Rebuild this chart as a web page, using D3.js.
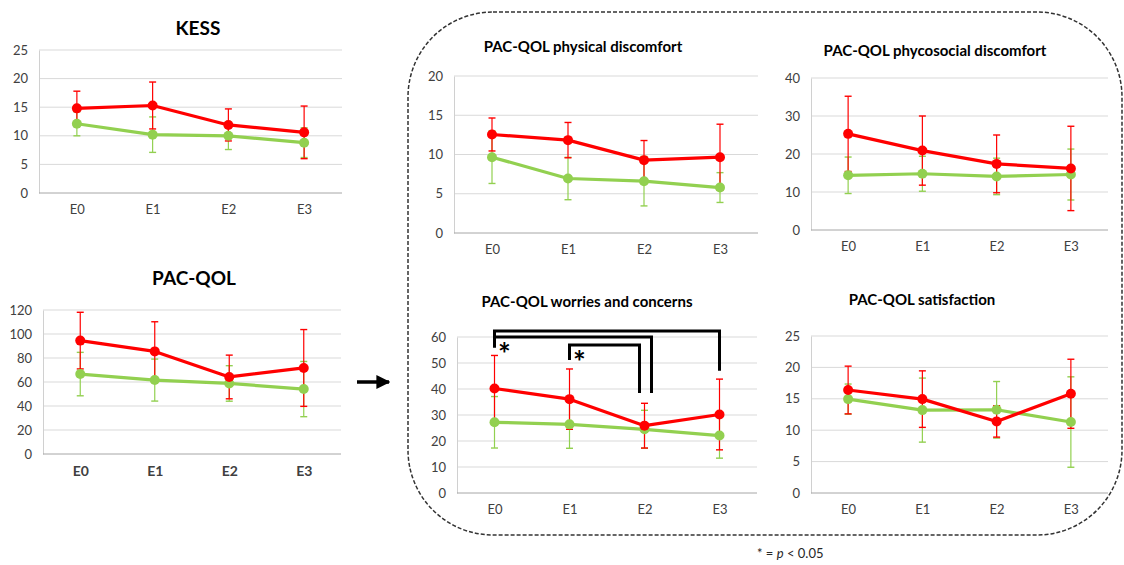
<!DOCTYPE html>
<html>
<head>
<meta charset="utf-8">
<script src="https://cdn.jsdelivr.net/npm/d3@7"></script>
<style>
  body { margin: 0; background: #fff; }
  svg { font-family: Lato, "Open Sans", sans-serif; }
</style>
</head>
<body>
<div id="chart"></div>
<script>
// time points
var categories = ["E0", "E1", "E2", "E3"];

// means and SD (red / green groups)
var kessRed = [14.8, 15.3, 11.9, 10.6];
var kessRedSd = [3.0, 4.1, 2.8, 4.6];
var kessGreen = [12.1, 10.2, 10.0, 8.8];
var kessGreenSd = [2.1, 3.1, 2.4, 2.6];

var pacRed = [94.5, 85.5, 64.2, 71.7];
var pacRedSd = [23.6, 24.7, 18.2, 32.0];
var pacGreen = [66.6, 61.6, 58.8, 54.1];
var pacGreenSd = [18.1, 17.5, 14.8, 23.0];

var physRed = [12.55, 11.83, 9.28, 9.66];
var physRedSd = [2.1, 2.25, 2.5, 4.2];
var physGreen = [9.66, 6.94, 6.6, 5.79];
var physGreenSd = [3.35, 2.7, 3.15, 1.9];

var psyRed = [25.3, 20.9, 17.4, 16.2];
var psyRedSd = [9.9, 9.1, 7.6, 11.1];
var psyGreen = [14.4, 14.8, 14.1, 14.6];
var psyGreenSd = [4.8, 4.6, 4.8, 6.7];

var worRed = [40.2, 36.1, 25.9, 30.2];
var worRedSd = [12.7, 11.6, 8.6, 13.6];
var worGreen = [27.2, 26.4, 24.5, 22.1];
var worGreenSd = [9.9, 9.2, 7.3, 8.7];

var satRed = [16.4, 14.95, 11.4, 15.8];
var satRedSd = [3.8, 4.5, 2.5, 5.5];
var satGreen = [14.95, 13.2, 13.25, 11.3];
var satGreenSd = [2.4, 5.1, 4.5, 7.2];

// significance brackets in worries panel: [from, to, top value, left leg end, right leg end]
var worBrackets = [
  ["E0", "E3", 62.3, 56.0, 47.0],
  ["E0", "E2", 60.0, 56.0, 38.5],
  ["E1", "E2", 56.9, 51.2, 38.5]
];
var worStars = [["E0", 55.5], ["E1", 52.5]];

var RED = "#ff0000", GREEN = "#92d050";

var svg = d3.select("#chart").append("svg")
  .attr("width", 1124).attr("height", 565);

// layout of every panel
var panels = [
  { title: "KESS", red: kessRed, redSd: kessRedSd, green: kessGreen, greenSd: kessGreenSd,
    x0: 39, x1: 342, top: 50, bottom: 193, max: 25, step: 5, tx: 198, ty: 30, tsize: 19, boldX: false },
  { title: "PAC-QOL", red: pacRed, redSd: pacRedSd, green: pacGreen, greenSd: pacGreenSd,
    x0: 43, x1: 341, top: 310, bottom: 454, max: 120, step: 20, tx: 194, ty: 280, tsize: 19, boldX: true },
  { title: "PAC-QOL physical discomfort", red: physRed, redSd: physRedSd, green: physGreen, greenSd: physGreenSd,
    x0: 454, x1: 758, top: 76, bottom: 233, max: 20, step: 5, tx: 583, ty: 48, tsize: 15, boldX: false },
  { title: "PAC-QOL phycosocial discomfort", red: psyRed, redSd: psyRedSd, green: psyGreen, greenSd: psyGreenSd,
    x0: 811, x1: 1108, top: 78, bottom: 230, max: 40, step: 10, tx: 935, ty: 52, tsize: 15, boldX: false },
  { title: "PAC-QOL worries and concerns", red: worRed, redSd: worRedSd, green: worGreen, greenSd: worGreenSd,
    x0: 457, x1: 757, top: 337, bottom: 493, max: 60, step: 10, tx: 587, ty: 303, tsize: 15, boldX: false, brackets: true },
  { title: "PAC-QOL satisfaction", red: satRed, redSd: satRedSd, green: satGreen, greenSd: satGreenSd,
    x0: 811, x1: 1108, top: 336, bottom: 493, max: 25, step: 5, tx: 922, ty: 301, tsize: 15, boldX: false }
];

panels.forEach(function(p) { drawPanel(p); });

function drawPanel(p) {
  var g = svg.append("g");

  var x = d3.scalePoint().domain(categories).range([p.x0, p.x1]).padding(0.5);
  var y = d3.scaleLinear().domain([0, p.max]).range([p.bottom, p.top]);
  var ticks = d3.range(0, p.max + 0.001, p.step);

  // gridlines
  g.selectAll(".grid").data(ticks.slice(1)).enter().append("line")
    .attr("x1", p.x0).attr("x2", p.x1)
    .attr("y1", d => y(d)).attr("y2", d => y(d))
    .attr("stroke", "#d9d9d9").attr("stroke-width", 1);

  // y axis
  var yAxis = g.append("g").attr("transform", `translate(${p.x0},0)`)
    .call(d3.axisLeft(y).tickValues(ticks).tickSize(0).tickPadding(11));
  yAxis.select(".domain").attr("stroke", "#d0d0d0");
  yAxis.selectAll("text").attr("fill", "#404040").style("font-size", "13px")
    .style("font-family", "Lato, sans-serif");

  // x axis
  var xAxis = g.append("g").attr("transform", `translate(0,${p.bottom})`)
    .call(d3.axisBottom(x).tickSize(0).tickPadding(12));
  xAxis.select(".domain").attr("stroke", "#a6a6a6").attr("d", `M${p.x0},0H${p.x1}`);
  xAxis.selectAll("text").attr("fill", "#404040")
    .style("font-size", p.boldX ? "14px" : "13px")
    .style("font-weight", p.boldX ? "bold" : "normal")
    .style("font-family", "Lato, sans-serif");

  // title
  g.append("text").attr("x", p.tx).attr("y", p.ty)
    .attr("text-anchor", "middle").attr("dominant-baseline", "middle")
    .style("font-size", p.tsize + "px").style("font-weight", "bold")
    .attr("fill", "#000").text(p.title);

  var series = [
    { vals: p.green, sd: p.greenSd, color: GREEN },
    { vals: p.red, sd: p.redSd, color: RED }
  ];

  // error bars
  series.forEach(function(s) {
    var eb = g.append("g");
    categories.forEach(function(c, i) {
      var cx = x(c), hi = y(s.vals[i] + s.sd[i]), lo = y(Math.max(0, s.vals[i] - s.sd[i]));
      eb.append("line").attr("x1", cx).attr("x2", cx).attr("y1", hi).attr("y2", lo)
        .attr("stroke", s.color).attr("stroke-width", 1.2);
      [hi, lo].forEach(function(yy) {
        eb.append("line").attr("x1", cx - 3.5).attr("x2", cx + 3.5).attr("y1", yy).attr("y2", yy)
          .attr("stroke", s.color).attr("stroke-width", 1.4);
      });
    });
  });

  // lines and markers
  series.forEach(function(s) {
    var line = d3.line().x((d, i) => x(categories[i])).y(d => y(d));
    g.append("path").datum(s.vals).attr("d", line)
      .attr("fill", "none").attr("stroke", s.color).attr("stroke-width", 3.2)
      .attr("stroke-linejoin", "round");
    g.selectAll(null).data(s.vals).enter().append("circle")
      .attr("cx", (d, i) => x(categories[i])).attr("cy", d => y(d))
      .attr("r", 5).attr("fill", s.color);
  });

  if (p.brackets) drawBrackets(g, x, y);
}

function drawBrackets(g, x, y) {
  // small horizontal nudges so the legs don't overlap
  var legShift = [[0, 0], [0, 7], [0, -5]];
  worBrackets.forEach(function(b, i) {
    var xa = x(b[0]) + legShift[i][0], xb = x(b[1]) + legShift[i][1];
    g.append("path")
      .attr("d", `M${xa},${y(b[3])}V${y(b[2])}H${xb}V${y(b[4])}`)
      .attr("fill", "none").attr("stroke", "#000").attr("stroke-width", 3);
  });
  worStars.forEach(function(s) {
    g.append("text").attr("x", x(s[0]) + 10).attr("y", y(s[1]) + 16)
      .attr("text-anchor", "middle").style("font-size", "30px").style("font-weight", "bold")
      .attr("fill", "#000").text("*");
  });
}

// dashed rounded frame around the sub-scales
svg.append("rect").attr("x", 408).attr("y", 12).attr("width", 714).attr("height", 523)
  .attr("rx", 85).attr("ry", 85)
  .attr("fill", "none").attr("stroke", "#333").attr("stroke-width", 1.5)
  .attr("stroke-dasharray", "4,2");

// arrow
svg.append("defs").append("marker").attr("id", "arrowhead")
  .attr("viewBox", "0 0 10 10").attr("refX", 9).attr("refY", 5)
  .attr("markerWidth", 4).attr("markerHeight", 4).attr("orient", "auto")
  .append("path").attr("d", "M0,0L10,5L0,10Z").attr("fill", "#000");
svg.append("line").attr("x1", 357).attr("x2", 389).attr("y1", 382).attr("y2", 382)
  .attr("stroke", "#000").attr("stroke-width", 3.5).attr("marker-end", "url(#arrowhead)");

// footnote
var foot = svg.append("text").attr("x", 757).attr("y", 558)
  .style("font-size", "13px").attr("fill", "#262626");
foot.append("tspan").text("*  = ");
foot.append("tspan").style("font-style", "italic").text("p");
foot.append("tspan").text(" < 0.05");
</script>
</body>
</html>
